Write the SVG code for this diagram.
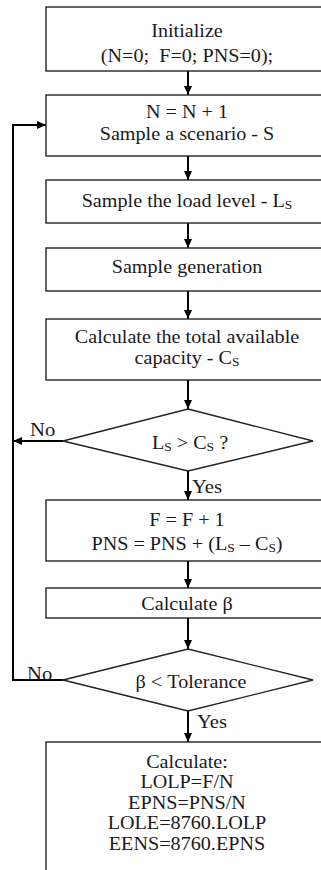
<svg xmlns="http://www.w3.org/2000/svg" width="321" height="870" viewBox="0 0 321 870">
<style>
.box{fill:#fff;stroke:#222;stroke-width:1.4}
.t{font-family:"Liberation Serif","Times New Roman",serif;font-size:18px;fill:#1a1a1a;text-anchor:middle}
.l{font-family:"Liberation Serif","Times New Roman",serif;font-size:18px;fill:#1a1a1a}
.sub{font-size:12px}
.c{fill:none;stroke:#000;stroke-width:2}
</style>
<defs>
<marker id="ah" viewBox="0 0 9 8" refX="9" refY="4" markerWidth="9" markerHeight="8" markerUnits="userSpaceOnUse" orient="auto">
<path d="M0,0 L9,4 L0,8 z" fill="#000"/>
</marker>
</defs>
<rect width="321" height="870" fill="#fff"/>
<g id="connectors">
<line class="c" x1="188" y1="71" x2="188" y2="95" marker-end="url(#ah)"/>
<line class="c" x1="188" y1="156" x2="188" y2="180" marker-end="url(#ah)"/>
<line class="c" x1="188" y1="223" x2="188" y2="248" marker-end="url(#ah)"/>
<line class="c" x1="188" y1="291" x2="188" y2="319" marker-end="url(#ah)"/>
<line class="c" x1="188" y1="380" x2="188" y2="409" marker-end="url(#ah)"/>
<line class="c" x1="188" y1="471" x2="188" y2="500" marker-end="url(#ah)"/>
<line class="c" x1="188" y1="561" x2="188" y2="588" marker-end="url(#ah)"/>
<line class="c" x1="188" y1="618" x2="188" y2="649" marker-end="url(#ah)"/>
<line class="c" x1="188" y1="711" x2="188" y2="742" marker-end="url(#ah)"/>
<line class="c" x1="63" y1="441" x2="13" y2="441" marker-end="url(#ah)"/>
<polyline class="c" points="63,680 13,680 13,125 46,125" marker-end="url(#ah)"/>
<text class="l" transform="translate(30,436) scale(1.15,1)">No</text>
<text class="l" transform="translate(27,680) scale(1.15,1)">No</text>
<text class="l" transform="translate(192,493) scale(1.15,1)">Yes</text>
<text class="l" transform="translate(197,728) scale(1.15,1)">Yes</text>
</g>
<g id="init">
<rect class="box" x="46" y="7" width="290" height="64"/>
<text class="t" transform="translate(187,37) scale(1.12,1)">Initialize</text>
<text class="t" transform="translate(187,62) scale(1.12,1)" xml:space="preserve">(N=0;  F=0; PNS=0);</text>
</g>
<g id="sample-scenario">
<rect class="box" x="46" y="95" width="290" height="61"/>
<text class="t" transform="translate(187,118) scale(1.12,1)">N = N + 1</text>
<text class="t" transform="translate(187,140) scale(1.12,1)">Sample a scenario - S</text>
</g>
<g id="sample-load">
<rect class="box" x="46" y="180" width="290" height="43"/>
<text class="t" transform="translate(187,207) scale(1.12,1)">Sample the load level - L<tspan class="sub" dy="2">S</tspan></text>
</g>
<g id="sample-gen">
<rect class="box" x="46" y="248" width="290" height="43"/>
<text class="t" transform="translate(187,273) scale(1.12,1)">Sample generation</text>
</g>
<g id="calc-capacity">
<rect class="box" x="46" y="319" width="290" height="61"/>
<text class="t" transform="translate(187,343) scale(1.12,1)">Calculate the total available</text>
<text class="t" transform="translate(187,364) scale(1.12,1)">capacity - C<tspan class="sub" dy="2">S</tspan></text>
</g>
<g id="decision-load">
<polygon class="box" points="188,409 313,441 188,471 63,441"/>
<text class="t" transform="translate(190,449) scale(1.12,1)">L<tspan class="sub" dy="2">S</tspan><tspan dy="-2"> &gt; C</tspan><tspan class="sub" dy="2">S</tspan><tspan dy="-2"> ?</tspan></text>
</g>
<g id="update-f">
<rect class="box" x="46" y="500" width="290" height="61"/>
<text class="t" transform="translate(187,526) scale(1.12,1)">F = F + 1</text>
<text class="t" transform="translate(187,550) scale(1.12,1)">PNS = PNS + (L<tspan class="sub" dy="2">S</tspan><tspan dy="-2"> – C</tspan><tspan class="sub" dy="2">S</tspan><tspan dy="-2">)</tspan></text>
</g>
<g id="calc-beta">
<rect class="box" x="46" y="588" width="290" height="30"/>
<text class="t" transform="translate(187,610) scale(1.12,1)">Calculate β</text>
</g>
<g id="decision-beta">
<polygon class="box" points="188,649 313,680 188,711 63,680"/>
<text class="t" transform="translate(191,688) scale(1.12,1)">β &lt; Tolerance</text>
</g>
<g id="results">
<rect class="box" x="46" y="742" width="290" height="140"/>
<text class="t" transform="translate(187,768) scale(1.12,1)">Calculate:</text>
<text class="t" transform="translate(187,788) scale(1.12,1)">LOLP=F/N</text>
<text class="t" transform="translate(187,809) scale(1.12,1)">EPNS=PNS/N</text>
<text class="t" transform="translate(187,829) scale(1.12,1)">LOLE=8760.LOLP</text>
<text class="t" transform="translate(187,850) scale(1.12,1)">EENS=8760.EPNS</text>
</g>
</svg>
